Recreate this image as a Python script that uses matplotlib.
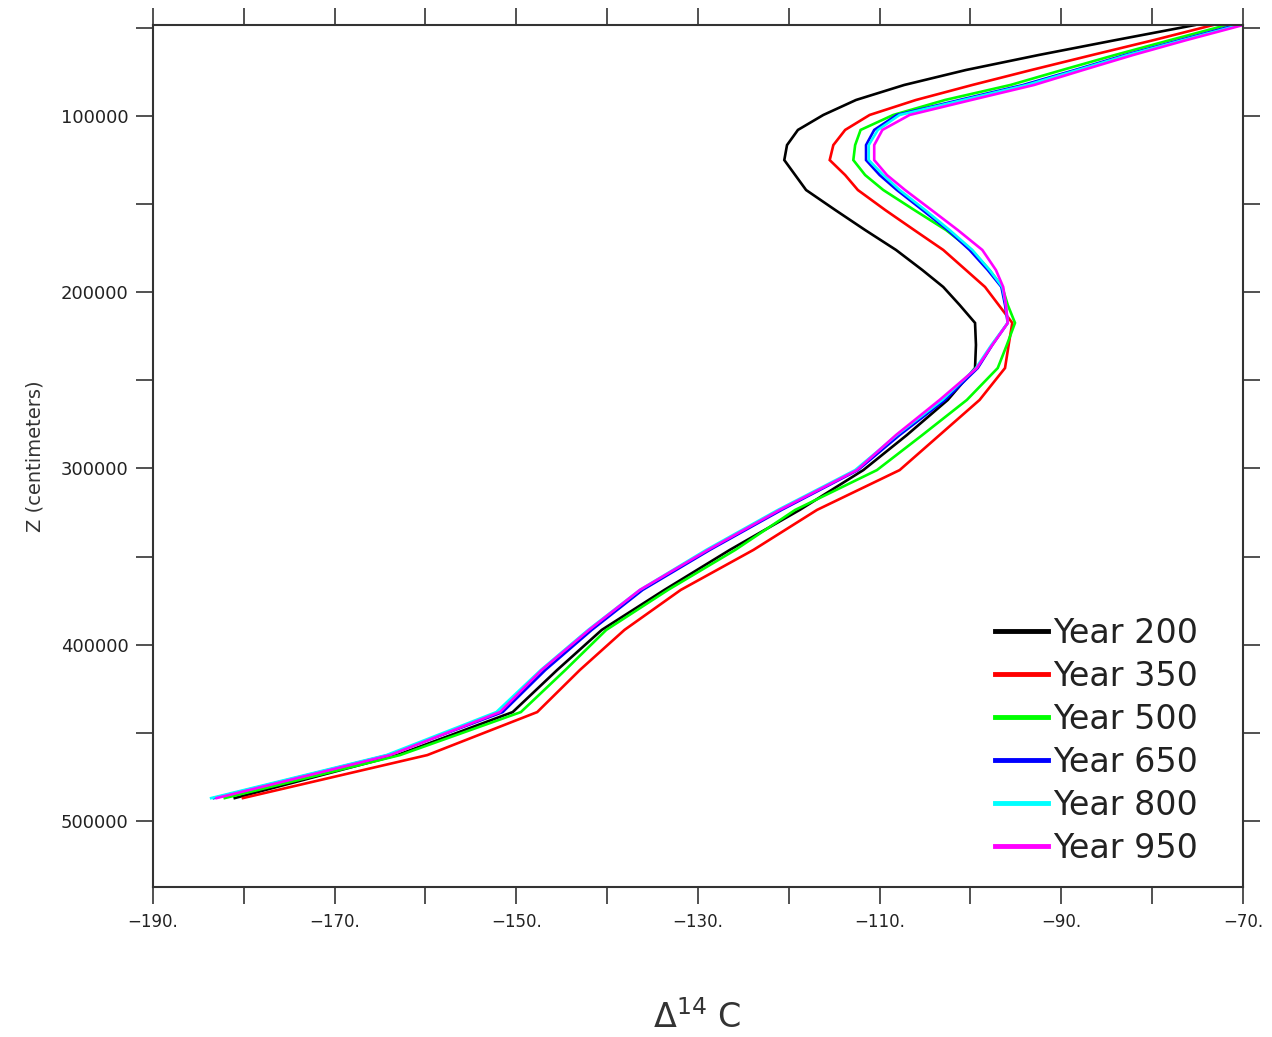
import matplotlib
matplotlib.use("Agg")
import matplotlib.pyplot as plt
from matplotlib.ticker import MultipleLocator, FixedLocator

# Depth levels (cm)
depth = [48400, 56900, 65400, 73900, 82400, 90900, 99400, 107900, 116500, 125000,
         133500, 142000, 153300, 164700, 176000, 187400, 197000, 207200, 217400, 229900,
         243000, 261100, 281000, 300900, 323500, 346200, 368900, 391600, 414300, 438200,
         462600, 487000]

year_labels = ["Year 200", "Year 350", "Year 500", "Year 650", "Year 800", "Year 950"]

y200 = [-75.3, -84.0, -92.5, -100.5, -107.3, -112.6, -116.2, -119.0, -120.2, -120.5,
        -119.3, -118.1, -114.9, -111.6, -108.2, -105.3, -103.0, -101.2, -99.5, -99.4,
        -99.5, -102.5, -107.0, -111.8, -118.8, -126.5, -133.7, -140.6, -145.5, -150.4,
        -163.1, -181.0]
y350 = [-73.3, -79.8, -86.6, -93.3, -99.8, -106.0, -111.1, -113.8, -115.1, -115.5,
        -113.8, -112.4, -109.4, -106.2, -103.0, -100.5, -98.4, -96.9, -95.4, -95.8,
        -96.2, -99.0, -103.4, -107.8, -116.9, -123.9, -131.9, -138.1, -143.0, -147.7,
        -159.8, -180.1]
y500 = [-71.8, -78.0, -84.1, -89.9, -95.6, -102.8, -108.5, -112.1, -112.7, -112.9,
        -111.6, -109.6, -106.2, -102.7, -99.9, -97.9, -96.5, -95.9, -95.1, -96.0,
        -97.0, -100.4, -105.3, -110.3, -119.3, -125.9, -133.3, -140.1, -144.6, -149.5,
        -162.8, -182.1]
y650 = [-70.8, -76.9, -83.0, -88.5, -94.2, -101.2, -108.1, -110.6, -111.5, -111.5,
        -110.0, -108.1, -105.3, -102.5, -100.1, -98.1, -96.6, -96.2, -95.9, -97.6,
        -99.2, -102.8, -107.8, -112.4, -120.8, -128.7, -136.1, -141.7, -146.8, -151.5,
        -164.1, -183.3]
y800 = [-70.4, -76.6, -82.7, -88.2, -93.8, -100.8, -107.8, -110.2, -111.2, -111.2,
        -109.6, -107.8, -105.0, -102.3, -99.8, -97.9, -96.5, -96.1, -95.9, -97.7,
        -99.4, -103.1, -108.1, -112.7, -121.2, -129.1, -136.4, -142.1, -147.3, -152.2,
        -164.3, -183.6]
y950 = [-70.0, -76.2, -82.1, -87.6, -93.0, -99.9, -106.7, -109.7, -110.6, -110.6,
        -109.2, -107.2, -104.3, -101.4, -98.7, -97.2, -96.4, -96.1, -95.9, -97.6,
        -99.3, -103.4, -108.2, -112.5, -121.0, -128.9, -136.4, -142.0, -147.2, -151.8,
        -163.9, -183.0]

series = [y200, y350, y500, y650, y800, y950]
colors = ["#000000", "#ff0000", "#00ff00", "#0000ff", "#00ffff", "#ff00ff"]

xticks_major = [-190, -170, -150, -130, -110, -90, -70]
xtick_labels = ["\u2212190.", "\u2212170.", "\u2212150.", "\u2212130.", "\u2212110.", "\u221290.", "\u221270."]
yticks_major = [100000, 200000, 300000, 400000, 500000]
ytick_labels = ["100000", "200000", "300000", "400000", "500000"]

W, H = 1272, 1037
fig = plt.figure(figsize=(W / 100, H / 100), dpi=100)
ax = fig.add_axes([153 / W, 1 - 887 / H, (1243 - 153) / W, (887 - 25) / H])

for vals, c, lab in zip(series, colors, year_labels):
    ax.plot(vals, depth, color=c, lw=1.9, label=lab, solid_joinstyle="miter")

ax.set_xlim(-190, -70)
ax.set_ylim(537450, 48368)

ax.xaxis.set_major_locator(FixedLocator(xticks_major))
ax.set_xticklabels(xtick_labels)
ax.xaxis.set_minor_locator(MultipleLocator(10))
ax.yaxis.set_major_locator(FixedLocator(yticks_major))
ax.set_yticklabels(ytick_labels)
ax.yaxis.set_minor_locator(MultipleLocator(50000))

for which in ("major", "minor"):
    ax.tick_params(axis="both", which=which, direction="out", length=12.5, width=1.2,
                   color="#333333", top=True, right=True)
ax.tick_params(axis="x", which="major", labelsize=12, pad=6, labelcolor="#222222")
ax.tick_params(axis="y", which="major", labelsize=13, pad=5, labelcolor="#222222")

for sp in ax.spines.values():
    sp.set_linewidth(1.5)
    sp.set_color("#333333")

ax.set_ylabel("Z (centimeters)", fontsize=14, color="#333333", labelpad=12)
fig.text(697 / W, 1 - 1018 / H, r"$\Delta^{14}$ C", fontsize=24, ha="center", va="center",
         color="#333333")

leg = ax.legend(loc="upper left", bbox_to_anchor=(995 / W, 1 - 617 / H),
                bbox_transform=fig.transFigure, frameon=False, fontsize=24,
                handlelength=1.6, handletextpad=0.15, labelspacing=0.3,
                borderpad=0, borderaxespad=0)
for line in leg.get_lines():
    line.set_linewidth(3.5)
for t in leg.get_texts():
    t.set_color("#222222")

fig.savefig("out.png", dpi=100)
